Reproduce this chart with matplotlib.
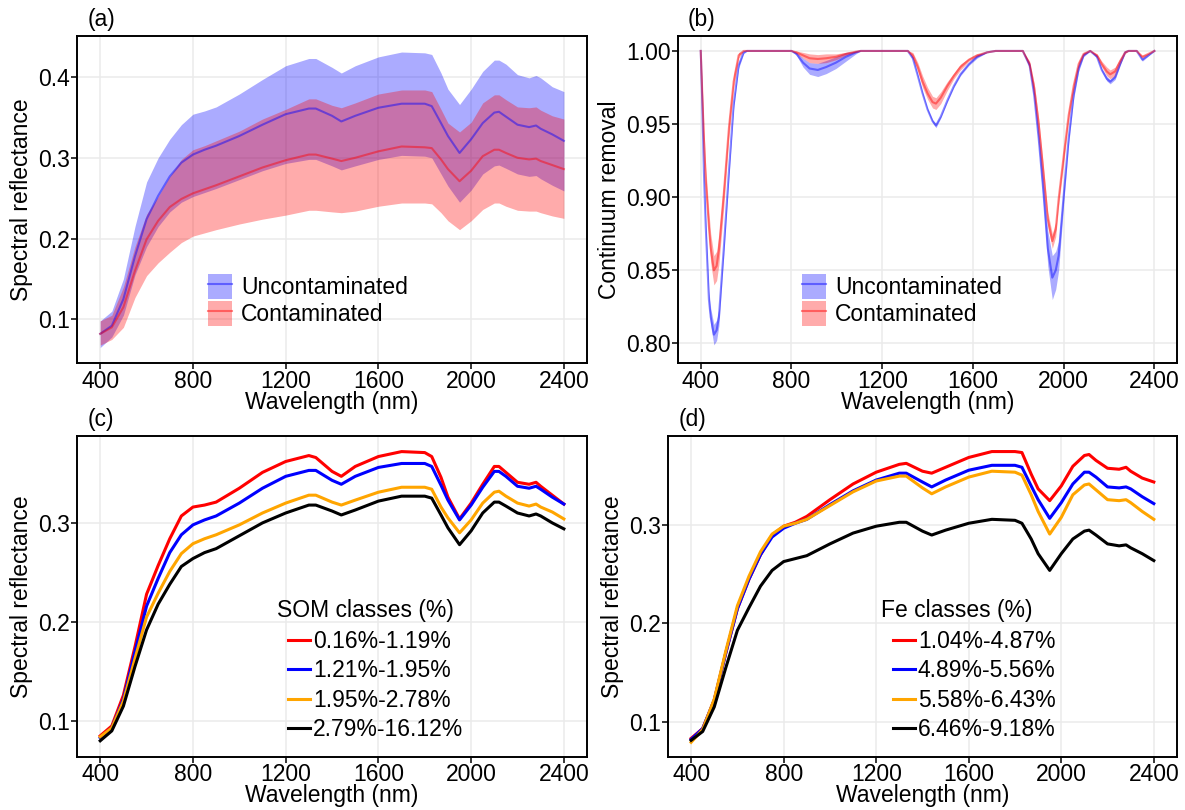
import matplotlib
matplotlib.use("Agg")
import matplotlib.pyplot as plt
import numpy as np
from matplotlib.patches import Patch
from matplotlib.lines import Line2D

plt.rcParams['font.family'] = ['Liberation Sans', 'DejaVu Sans']
plt.rcParams['font.size'] = 16

# ---- panel (a): mean reflectance with spread ----
wl = [400, 450, 500, 550, 600, 650, 700, 750, 800, 850, 900, 1000, 1100, 1200,
      1300, 1330, 1400, 1440, 1500, 1600, 1700, 1800, 1830, 1870, 1900, 1950,
      2000, 2050, 2100, 2120, 2150, 2200, 2250, 2280, 2300, 2350, 2400]

unc_mean = [0.082, 0.092, 0.125, 0.178, 0.224, 0.253, 0.277, 0.294, 0.304, 0.310,
            0.315, 0.327, 0.341, 0.354, 0.361, 0.361, 0.352, 0.345, 0.352, 0.362,
            0.367, 0.367, 0.364, 0.343, 0.327, 0.306, 0.323, 0.343, 0.356, 0.357,
            0.351, 0.341, 0.338, 0.340, 0.336, 0.329, 0.321]
unc_hi = [0.098, 0.110, 0.150, 0.215, 0.270, 0.300, 0.323, 0.341, 0.354, 0.358,
          0.363, 0.379, 0.397, 0.414, 0.423, 0.423, 0.412, 0.405, 0.414, 0.425,
          0.431, 0.430, 0.428, 0.405, 0.385, 0.366, 0.385, 0.407, 0.421, 0.421,
          0.416, 0.403, 0.399, 0.402, 0.399, 0.388, 0.382]
unc_lo = [0.065, 0.078, 0.105, 0.155, 0.190, 0.215, 0.233, 0.245, 0.252, 0.257,
          0.262, 0.273, 0.284, 0.293, 0.298, 0.298, 0.290, 0.285, 0.290, 0.298,
          0.303, 0.302, 0.300, 0.280, 0.265, 0.245, 0.260, 0.280, 0.290, 0.291,
          0.287, 0.280, 0.277, 0.278, 0.274, 0.266, 0.259]
con_mean = [0.082, 0.090, 0.115, 0.160, 0.199, 0.222, 0.239, 0.249, 0.256, 0.261,
            0.266, 0.277, 0.288, 0.297, 0.304, 0.304, 0.299, 0.296, 0.300, 0.308,
            0.314, 0.313, 0.312, 0.298, 0.286, 0.271, 0.284, 0.302, 0.310, 0.310,
            0.306, 0.300, 0.298, 0.299, 0.296, 0.291, 0.286]
con_hi = [0.098, 0.105, 0.140, 0.190, 0.230, 0.252, 0.277, 0.298, 0.310, 0.315,
          0.321, 0.333, 0.348, 0.360, 0.373, 0.373, 0.365, 0.362, 0.368, 0.379,
          0.384, 0.384, 0.382, 0.360, 0.343, 0.332, 0.344, 0.368, 0.378, 0.378,
          0.372, 0.363, 0.362, 0.363, 0.359, 0.352, 0.348]
con_lo = [0.068, 0.075, 0.090, 0.127, 0.154, 0.170, 0.183, 0.195, 0.203, 0.207,
          0.211, 0.218, 0.224, 0.229, 0.235, 0.235, 0.233, 0.232, 0.234, 0.240,
          0.244, 0.244, 0.243, 0.232, 0.222, 0.211, 0.222, 0.236, 0.244, 0.244,
          0.240, 0.235, 0.234, 0.234, 0.232, 0.228, 0.225]

# ---- panel (b): continuum removal ----
wl_cr = [400, 407, 414, 422, 436, 444, 458, 470, 480, 502, 524, 545, 567, 589, 604,
         800, 822, 851, 880, 916, 953, 996, 1040, 1084, 1105,
         1313, 1335, 1357, 1378, 1400, 1422, 1437, 1458, 1487, 1516, 1545, 1582,
         1618, 1662, 1700,
         1820, 1850, 1870, 1890, 1910, 1930, 1950, 1965, 1978, 2000, 2022, 2044,
         2066, 2088, 2117,
         2147, 2168, 2190, 2205, 2227, 2249, 2271, 2286, 2322, 2347, 2400]
unc_cr = [1.0, 0.963, 0.917, 0.880, 0.830, 0.818, 0.806, 0.809, 0.818, 0.866, 0.917,
          0.963, 0.990, 0.999, 1.0,
          1.0, 0.998, 0.992, 0.988, 0.987, 0.989, 0.992, 0.996, 0.999, 1.0,
          1.0, 0.995, 0.983, 0.971, 0.960, 0.952, 0.949, 0.955, 0.966, 0.976, 0.984,
          0.991, 0.996, 0.999, 1.0,
          1.0, 0.990, 0.970, 0.940, 0.905, 0.865, 0.845, 0.850, 0.860, 0.901, 0.940,
          0.970, 0.988, 0.997, 1.0,
          0.996, 0.987, 0.981, 0.979, 0.982, 0.991, 0.999, 1.0, 1.0, 0.994, 1.0]
unc_cr_sd = [0, 0.004, 0.006, 0.006, 0.006, 0.006, 0.007, 0.007, 0.006, 0.005, 0.004,
             0.003, 0.002, 0.001, 0,
             0, 0.001, 0.003, 0.004, 0.0045, 0.0045, 0.004, 0.003, 0.001, 0,
             0, 0.001, 0.001, 0.001, 0.001, 0.001, 0.0015, 0.001, 0.001, 0.001, 0.001,
             0.001, 0.001, 0, 0,
             0, 0.002, 0.004, 0.006, 0.009, 0.012, 0.015, 0.013, 0.010, 0.006, 0.004,
             0.003, 0.002, 0.001, 0,
             0.001, 0.001, 0.0015, 0.0015, 0.0015, 0.001, 0, 0, 0, 0.001, 0]
con_cr = [1.0, 0.970, 0.940, 0.912, 0.880, 0.865, 0.850, 0.853, 0.864, 0.903, 0.947,
          0.979, 0.997, 1.0, 1.0,
          1.0, 0.999, 0.997, 0.995, 0.9945, 0.995, 0.996, 0.998, 0.9995, 1.0,
          1.0, 0.997, 0.989, 0.979, 0.971, 0.965, 0.964, 0.968, 0.976, 0.983, 0.989,
          0.994, 0.997, 0.999, 1.0,
          1.0, 0.991, 0.975, 0.950, 0.918, 0.885, 0.870, 0.878, 0.899, 0.928, 0.956,
          0.976, 0.991, 0.998, 1.0,
          0.997, 0.991, 0.986, 0.984, 0.986, 0.993, 0.999, 1.0, 1.0, 0.996, 1.0]
con_cr_sd = [0, 0.006, 0.008, 0.009, 0.010, 0.010, 0.010, 0.010, 0.010, 0.009, 0.007,
             0.005, 0.002, 0, 0,
             0, 0.001, 0.002, 0.003, 0.003, 0.003, 0.002, 0.001, 0.0005, 0,
             0, 0.002, 0.003, 0.004, 0.004, 0.004, 0.004, 0.004, 0.003, 0.002, 0.002,
             0.001, 0.001, 0, 0,
             0, 0.002, 0.003, 0.004, 0.005, 0.005, 0.005, 0.005, 0.005, 0.005, 0.004,
             0.003, 0.002, 0.001, 0,
             0.001, 0.002, 0.003, 0.003, 0.003, 0.002, 0.001, 0, 0, 0.001, 0]

# ---- panel (c): SOM classes ----
som_labels = ['0.16%-1.19%', '1.21%-1.95%', '1.95%-2.78%', '2.79%-16.12%']
som_1 = [0.085, 0.095, 0.126, 0.175, 0.228, 0.257, 0.284, 0.307, 0.316, 0.318,
         0.321, 0.335, 0.351, 0.362, 0.368, 0.366, 0.352, 0.347, 0.357, 0.367,
         0.372, 0.371, 0.367, 0.346, 0.326, 0.304, 0.320, 0.339, 0.357, 0.357,
         0.351, 0.341, 0.339, 0.341, 0.337, 0.328, 0.319]
som_2 = [0.083, 0.093, 0.122, 0.170, 0.216, 0.244, 0.270, 0.288, 0.298, 0.303,
         0.307, 0.320, 0.335, 0.347, 0.353, 0.353, 0.343, 0.339, 0.347, 0.356,
         0.360, 0.360, 0.357, 0.338, 0.323, 0.303, 0.318, 0.336, 0.352, 0.352,
         0.347, 0.337, 0.335, 0.337, 0.334, 0.326, 0.319]
som_3 = [0.084, 0.093, 0.120, 0.163, 0.205, 0.229, 0.251, 0.269, 0.279, 0.284,
         0.288, 0.298, 0.310, 0.320, 0.328, 0.328, 0.321, 0.318, 0.323, 0.331,
         0.336, 0.336, 0.334, 0.316, 0.305, 0.290, 0.303, 0.320, 0.331, 0.332,
         0.327, 0.320, 0.317, 0.319, 0.316, 0.311, 0.304]
som_4 = [0.080, 0.090, 0.115, 0.155, 0.192, 0.218, 0.238, 0.256, 0.264, 0.270,
         0.274, 0.287, 0.300, 0.310, 0.318, 0.318, 0.312, 0.308, 0.313, 0.322,
         0.327, 0.327, 0.325, 0.308, 0.295, 0.278, 0.292, 0.310, 0.321, 0.321,
         0.317, 0.310, 0.307, 0.309, 0.307, 0.300, 0.294]

# ---- panel (d): Fe classes ----
fe_labels = ['1.04%-4.87%', '4.89%-5.56%', '5.58%-6.43%', '6.46%-9.18%']
fe_1 = [0.083, 0.093, 0.122, 0.170, 0.215, 0.245, 0.270, 0.290, 0.299, 0.303,
        0.309, 0.326, 0.342, 0.354, 0.362, 0.363, 0.355, 0.353, 0.359, 0.369,
        0.375, 0.375, 0.374, 0.352, 0.337, 0.325, 0.340, 0.360, 0.371, 0.372,
        0.366, 0.358, 0.357, 0.359, 0.355, 0.348, 0.344]
fe_2 = [0.082, 0.093, 0.122, 0.170, 0.215, 0.245, 0.270, 0.288, 0.297, 0.302,
        0.306, 0.321, 0.335, 0.346, 0.353, 0.353, 0.344, 0.339, 0.346, 0.356,
        0.361, 0.361, 0.359, 0.340, 0.326, 0.307, 0.323, 0.342, 0.354, 0.354,
        0.349, 0.339, 0.338, 0.339, 0.337, 0.329, 0.322]
fe_3 = [0.079, 0.092, 0.123, 0.172, 0.218, 0.248, 0.273, 0.291, 0.299, 0.302,
        0.306, 0.320, 0.334, 0.345, 0.350, 0.350, 0.338, 0.332, 0.339, 0.349,
        0.355, 0.354, 0.351, 0.331, 0.314, 0.291, 0.308, 0.331, 0.341, 0.342,
        0.336, 0.326, 0.325, 0.326, 0.323, 0.314, 0.306]
fe_4 = [0.081, 0.090, 0.115, 0.155, 0.193, 0.216, 0.238, 0.254, 0.263, 0.266,
        0.269, 0.281, 0.292, 0.299, 0.303, 0.303, 0.294, 0.290, 0.295, 0.302,
        0.306, 0.305, 0.302, 0.286, 0.271, 0.254, 0.271, 0.286, 0.294, 0.295,
        0.290, 0.281, 0.279, 0.280, 0.277, 0.271, 0.264]

class_colors = ['#ff0000', '#0000ff', '#ffa500', '#000000']
xticks = [400, 800, 1200, 1600, 2000, 2400]
FS = 16.5

fig = plt.figure(figsize=(11.85, 8.10), dpi=100)
ax_a = fig.add_axes([0.065, 0.552, 0.4304, 0.4037])
ax_b = fig.add_axes([0.5722, 0.552, 0.4211, 0.4037])
ax_c = fig.add_axes([0.065, 0.066, 0.4304, 0.3958])
ax_d = fig.add_axes([0.5637, 0.066, 0.4295, 0.3958])


def style(ax, ylim, yticks, ylabel, tag, fmt):
    ax.set_xlim(300, 2500)
    ax.set_ylim(*ylim)
    ax.set_xticks(xticks)
    ax.set_yticks(yticks)
    ax.set_yticklabels([fmt % v for v in yticks])
    ax.grid(True, color='#ebebeb', lw=1.1)
    ax.set_axisbelow(True)
    for s in ax.spines.values():
        s.set_linewidth(1.4)
        s.set_color('black')
    ax.tick_params(length=4, width=1.1, pad=1, labelsize=FS, colors='black')
    ax.set_xlabel('Wavelength (nm)', fontsize=FS, labelpad=-1.5)
    ax.set_ylabel(ylabel, fontsize=FS, labelpad=4)
    ax.text(0.02, 1.015, tag, transform=ax.transAxes, fontsize=FS,
            ha='left', va='bottom')


def band_legend(ax, x0, y0):
    handles = [(Patch(facecolor='blue', alpha=0.33, lw=0),
                Line2D([], [], color='blue', alpha=0.45, lw=1.5)),
               (Patch(facecolor='red', alpha=0.33, lw=0),
                Line2D([], [], color='red', alpha=0.45, lw=1.5))]
    ax.legend(handles, ['Uncontaminated', 'Contaminated'], loc='upper left',
              bbox_to_anchor=(x0, y0), frameon=False, fontsize=FS,
              handlelength=1.05, handleheight=1.3, handletextpad=0.4,
              labelspacing=0.08, borderpad=0, borderaxespad=0)


def class_legend(ax, tx, ty, lx, ly, title):
    ax.text(tx, ty, title, transform=ax.transAxes, fontsize=FS,
            ha='left', va='center')
    ax.legend(loc='upper left', bbox_to_anchor=(lx, ly), frameon=False,
              fontsize=FS, handlelength=0.96, handletextpad=0.13,
              labelspacing=0.28, borderpad=0, borderaxespad=0)


# (a)
ax_a.fill_between(wl, unc_lo, unc_hi, color='blue', alpha=0.33, lw=0)
ax_a.fill_between(wl, con_lo, con_hi, color='red', alpha=0.33, lw=0)
ax_a.plot(wl, unc_mean, color='blue', alpha=0.45, lw=1.5)
ax_a.plot(wl, con_mean, color='red', alpha=0.45, lw=1.5)
style(ax_a, (0.046, 0.451), [0.1, 0.2, 0.3, 0.4], 'Spectral reflectance', '(a)', '%.1f')
band_legend(ax_a, 0.257, 0.272)

# (b)
u = np.array(unc_cr)
us = np.array(unc_cr_sd)
c = np.array(con_cr)
cs = np.array(con_cr_sd)
ax_b.fill_between(wl_cr, u - us, np.minimum(u + us, 1), color='blue', alpha=0.33, lw=0)
ax_b.fill_between(wl_cr, c - cs, np.minimum(c + cs, 1), color='red', alpha=0.33, lw=0)
ax_b.plot(wl_cr, unc_cr, color='blue', alpha=0.45, lw=1.5)
ax_b.plot(wl_cr, con_cr, color='red', alpha=0.45, lw=1.5)
style(ax_b, (0.7867, 1.0103), [0.80, 0.85, 0.90, 0.95, 1.00], 'Continuum removal', '(b)', '%.2f')
band_legend(ax_b, 0.248, 0.272)

# (c)
for ys, col, lab in zip([som_1, som_2, som_3, som_4], class_colors, som_labels):
    ax_c.plot(wl, ys, color=col, lw=2.2, label=lab)
style(ax_c, (0.0641, 0.3878), [0.1, 0.2, 0.3], 'Spectral reflectance', '(c)', '%.1f')
class_legend(ax_c, 0.392, 0.457, 0.414, 0.395, 'SOM classes (%)')

# (d)
for ys, col, lab in zip([fe_1, fe_2, fe_3, fe_4], class_colors, fe_labels):
    ax_d.plot(wl, ys, color=col, lw=2.2, label=lab)
style(ax_d, (0.0645, 0.3909), [0.1, 0.2, 0.3], 'Spectral reflectance', '(d)', '%.1f')
class_legend(ax_d, 0.418, 0.457, 0.442, 0.395, 'Fe classes (%)')

fig.savefig('out.png', dpi=100)
